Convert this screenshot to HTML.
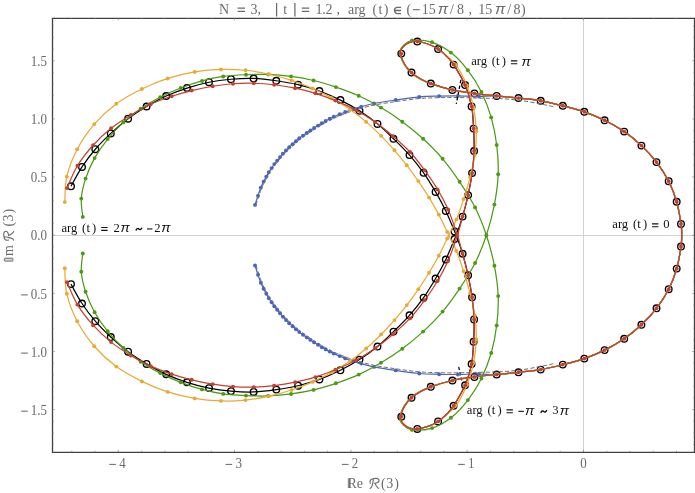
<!DOCTYPE html>
<html><head><meta charset="utf-8"><title>plot</title>
<style>html,body{margin:0;padding:0;background:#fff}body{width:695px;height:493px;overflow:hidden;position:relative;font-family:"Liberation Serif",serif}</style>
</head><body>
<svg width="695" height="493" viewBox="0 0 695 493" style="position:absolute;left:0;top:0">
<rect width="695" height="493" fill="#fff"/>
<g stroke="#d2d2d2" stroke-width="1" shape-rendering="crispEdges"><line x1="53" x2="694" y1="235.5" y2="235.5"/><line x1="583.5" x2="583.5" y1="18" y2="452"/></g>
<path d="M71.00 186.30C72.83 183.07 77.95 173.08 82.00 166.90C86.05 160.72 90.50 154.83 95.30 149.24C100.10 143.65 105.33 138.45 110.80 133.36C116.27 128.26 122.13 123.16 128.10 118.69C134.07 114.21 140.25 110.30 146.60 106.52C152.95 102.75 159.47 99.13 166.20 96.05C172.93 92.97 179.87 90.35 187.00 88.05C194.13 85.75 201.67 83.72 209.00 82.25C216.33 80.78 223.57 79.88 231.00 79.25C238.43 78.62 246.05 78.20 253.60 78.45C261.15 78.70 268.88 79.71 276.30 80.75C283.72 81.79 290.92 82.97 298.10 84.67C305.28 86.37 312.35 88.38 319.40 90.96C326.45 93.53 333.72 96.79 340.40 100.10C347.08 103.41 353.32 106.83 359.50 110.80C365.68 114.77 371.83 119.23 377.50 123.90C383.17 128.57 388.17 133.60 393.50 138.80C398.83 144.00 404.48 149.43 409.50 155.10C414.52 160.77 419.25 166.67 423.60 172.80C427.95 178.93 431.90 185.55 435.60 191.90C439.30 198.25 442.63 204.32 445.80 210.90C448.97 217.48 452.87 227.35 454.60 231.40C456.33 235.45 454.87 231.47 456.20 235.20C457.53 238.93 460.62 247.12 462.60 253.80C464.58 260.48 466.52 268.05 468.10 275.30C469.68 282.55 471.10 289.95 472.10 297.30C473.10 304.65 473.85 311.98 474.10 319.40C474.35 326.82 474.02 334.37 473.60 341.80C473.18 349.23 473.02 356.75 471.60 364.00C470.18 371.25 468.10 378.33 465.10 385.30C462.10 392.27 456.68 400.98 453.60 405.80C450.52 410.62 449.18 411.60 446.60 414.20C444.02 416.80 441.22 419.37 438.10 421.40C434.98 423.43 431.37 425.12 427.90 426.40C424.43 427.68 420.35 428.83 417.30 429.10C414.25 429.37 411.88 428.82 409.60 428.00C407.32 427.18 405.15 425.73 403.60 424.20C402.05 422.67 400.75 420.37 400.30 418.80C399.85 417.23 400.22 416.87 400.90 414.80C401.58 412.73 402.63 409.27 404.40 406.40C406.17 403.53 408.83 400.07 411.50 397.60C414.17 395.13 417.18 393.40 420.40 391.60C423.62 389.80 425.47 388.65 430.80 386.80C436.13 384.95 445.13 382.13 452.40 380.50C459.67 378.87 467.02 378.00 474.40 377.00C481.78 376.00 489.35 375.28 496.70 374.50C504.05 373.72 511.17 373.12 518.50 372.30C525.83 371.48 533.32 370.88 540.70 369.60C548.08 368.32 555.53 366.43 562.80 364.60C570.07 362.77 577.33 361.02 584.30 358.60C591.27 356.18 597.95 353.40 604.60 350.10C611.25 346.80 618.07 343.02 624.20 338.80C630.33 334.58 636.02 329.88 641.40 324.80C646.78 319.72 651.95 314.23 656.50 308.30C661.05 302.37 665.33 295.82 668.70 289.20C672.07 282.58 674.65 275.72 676.70 268.60C678.75 261.48 680.17 252.07 681.00 246.50C681.83 240.93 681.70 238.97 681.70 235.20C681.70 231.43 681.83 229.47 681.00 223.90C680.17 218.33 678.75 208.92 676.70 201.80C674.65 194.68 672.07 187.82 668.70 181.20C665.33 174.58 661.05 168.03 656.50 162.10C651.95 156.17 646.78 150.68 641.40 145.60C636.02 140.52 630.33 135.82 624.20 131.60C618.07 127.38 611.25 123.60 604.60 120.30C597.95 117.00 591.27 114.22 584.30 111.80C577.33 109.38 570.07 107.63 562.80 105.80C555.53 103.97 548.08 102.08 540.70 100.80C533.32 99.52 525.83 98.92 518.50 98.10C511.17 97.28 504.05 96.68 496.70 95.90C489.35 95.12 481.78 94.40 474.40 93.40C467.02 92.40 459.67 91.53 452.40 89.90C445.13 88.27 436.13 85.45 430.80 83.60C425.47 81.75 423.62 80.60 420.40 78.80C417.18 77.00 414.17 75.27 411.50 72.80C408.83 70.33 406.17 66.87 404.40 64.00C402.63 61.13 401.58 57.67 400.90 55.60C400.22 53.53 399.85 53.17 400.30 51.60C400.75 50.03 402.05 47.73 403.60 46.20C405.15 44.67 407.32 43.22 409.60 42.40C411.88 41.58 414.25 41.03 417.30 41.30C420.35 41.57 424.43 42.72 427.90 44.00C431.37 45.28 434.98 46.97 438.10 49.00C441.22 51.03 444.02 53.60 446.60 56.20C449.18 58.80 450.52 59.78 453.60 64.60C456.68 69.42 462.10 78.13 465.10 85.10C468.10 92.07 470.18 99.15 471.60 106.40C473.02 113.65 473.18 121.17 473.60 128.60C474.02 136.03 474.35 143.58 474.10 151.00C473.85 158.42 473.10 165.75 472.10 173.10C471.10 180.45 469.68 187.85 468.10 195.10C466.52 202.35 464.58 209.92 462.60 216.60C460.62 223.28 457.53 231.47 456.20 235.20C454.87 238.93 456.33 234.95 454.60 239.00C452.87 243.05 448.97 252.92 445.80 259.50C442.63 266.08 439.30 272.15 435.60 278.50C431.90 284.85 427.95 291.47 423.60 297.60C419.25 303.73 414.52 309.63 409.50 315.30C404.48 320.97 398.83 326.40 393.50 331.60C388.17 336.80 383.17 341.83 377.50 346.50C371.83 351.17 365.68 355.63 359.50 359.60C353.32 363.57 347.08 366.99 340.40 370.30C333.72 373.61 326.45 376.87 319.40 379.44C312.35 382.02 305.28 384.03 298.10 385.73C290.92 387.43 283.72 388.61 276.30 389.65C268.88 390.69 261.15 391.70 253.60 391.95C246.05 392.20 238.43 391.78 231.00 391.15C223.57 390.52 216.33 389.62 209.00 388.15C201.67 386.68 194.13 384.65 187.00 382.35C179.87 380.05 172.93 377.43 166.20 374.35C159.47 371.27 152.95 367.65 146.60 363.88C140.25 360.10 134.07 356.19 128.10 351.71C122.13 347.24 116.27 342.14 110.80 337.04C105.33 331.95 100.10 326.75 95.30 321.16C90.50 315.57 86.05 309.68 82.00 303.50C77.95 297.32 72.83 287.33 71.00 284.10" fill="none" stroke="#000" stroke-width="1.22"/>
<g fill="none" stroke="#000" stroke-width="1.35"><circle cx="71.0" cy="186.3" r="3.3"/><circle cx="82.0" cy="166.9" r="3.3"/><circle cx="95.3" cy="149.2" r="3.3"/><circle cx="110.8" cy="133.4" r="3.3"/><circle cx="128.1" cy="118.7" r="3.3"/><circle cx="146.6" cy="106.5" r="3.3"/><circle cx="166.2" cy="96.0" r="3.3"/><circle cx="187.0" cy="88.0" r="3.3"/><circle cx="209.0" cy="82.2" r="3.3"/><circle cx="231.0" cy="79.2" r="3.3"/><circle cx="253.6" cy="78.5" r="3.3"/><circle cx="276.3" cy="80.8" r="3.3"/><circle cx="298.1" cy="84.7" r="3.3"/><circle cx="319.4" cy="91.0" r="3.3"/><circle cx="340.4" cy="100.1" r="3.3"/><circle cx="359.5" cy="110.8" r="3.3"/><circle cx="377.5" cy="123.9" r="3.3"/><circle cx="393.5" cy="138.8" r="3.3"/><circle cx="409.5" cy="155.1" r="3.3"/><circle cx="423.6" cy="172.8" r="3.3"/><circle cx="435.6" cy="191.9" r="3.3"/><circle cx="445.8" cy="210.9" r="3.3"/><circle cx="454.6" cy="231.4" r="3.3"/><circle cx="462.6" cy="253.8" r="3.3"/><circle cx="468.1" cy="275.3" r="3.3"/><circle cx="472.1" cy="297.3" r="3.3"/><circle cx="474.1" cy="319.4" r="3.3"/><circle cx="473.6" cy="341.8" r="3.3"/><circle cx="471.6" cy="364.0" r="3.3"/><circle cx="465.1" cy="385.3" r="3.3"/><circle cx="453.6" cy="405.8" r="3.3"/><circle cx="438.1" cy="421.4" r="3.3"/><circle cx="417.3" cy="428.9" r="3.3"/><circle cx="401.3" cy="416.8" r="3.3"/><circle cx="411.5" cy="397.8" r="3.3"/><circle cx="430.8" cy="386.8" r="3.3"/><circle cx="452.4" cy="380.5" r="3.3"/><circle cx="474.4" cy="377.0" r="3.3"/><circle cx="496.7" cy="374.5" r="3.3"/><circle cx="518.5" cy="372.3" r="3.3"/><circle cx="540.7" cy="369.6" r="3.3"/><circle cx="562.8" cy="364.6" r="3.3"/><circle cx="584.3" cy="358.6" r="3.3"/><circle cx="604.6" cy="350.1" r="3.3"/><circle cx="624.2" cy="338.8" r="3.3"/><circle cx="641.4" cy="324.8" r="3.3"/><circle cx="656.5" cy="308.3" r="3.3"/><circle cx="668.7" cy="289.2" r="3.3"/><circle cx="676.7" cy="268.6" r="3.3"/><circle cx="681.0" cy="246.5" r="3.3"/><circle cx="681.0" cy="223.9" r="3.3"/><circle cx="676.7" cy="201.8" r="3.3"/><circle cx="668.7" cy="181.2" r="3.3"/><circle cx="656.5" cy="162.1" r="3.3"/><circle cx="641.4" cy="145.6" r="3.3"/><circle cx="624.2" cy="131.6" r="3.3"/><circle cx="604.6" cy="120.3" r="3.3"/><circle cx="584.3" cy="111.8" r="3.3"/><circle cx="562.8" cy="105.8" r="3.3"/><circle cx="540.7" cy="100.8" r="3.3"/><circle cx="518.5" cy="98.1" r="3.3"/><circle cx="496.7" cy="95.9" r="3.3"/><circle cx="474.4" cy="93.4" r="3.3"/><circle cx="452.4" cy="89.9" r="3.3"/><circle cx="430.8" cy="83.6" r="3.3"/><circle cx="411.5" cy="72.6" r="3.3"/><circle cx="401.3" cy="53.6" r="3.3"/><circle cx="417.3" cy="41.5" r="3.3"/><circle cx="438.1" cy="49.0" r="3.3"/><circle cx="453.6" cy="64.6" r="3.3"/><circle cx="465.1" cy="85.1" r="3.3"/><circle cx="471.6" cy="106.4" r="3.3"/><circle cx="473.6" cy="128.6" r="3.3"/><circle cx="474.1" cy="151.0" r="3.3"/><circle cx="472.1" cy="173.1" r="3.3"/><circle cx="468.1" cy="195.1" r="3.3"/><circle cx="462.6" cy="216.6" r="3.3"/><circle cx="454.6" cy="239.0" r="3.3"/><circle cx="445.8" cy="259.5" r="3.3"/><circle cx="435.6" cy="278.5" r="3.3"/><circle cx="423.6" cy="297.6" r="3.3"/><circle cx="409.5" cy="315.3" r="3.3"/><circle cx="393.5" cy="331.6" r="3.3"/><circle cx="377.5" cy="346.5" r="3.3"/><circle cx="359.5" cy="359.6" r="3.3"/><circle cx="340.4" cy="370.3" r="3.3"/><circle cx="319.4" cy="379.4" r="3.3"/><circle cx="298.1" cy="385.7" r="3.3"/><circle cx="276.3" cy="389.6" r="3.3"/><circle cx="253.6" cy="391.9" r="3.3"/><circle cx="231.0" cy="391.1" r="3.3"/><circle cx="209.0" cy="388.1" r="3.3"/><circle cx="187.0" cy="382.3" r="3.3"/><circle cx="166.2" cy="374.3" r="3.3"/><circle cx="146.6" cy="363.9" r="3.3"/><circle cx="128.1" cy="351.7" r="3.3"/><circle cx="110.8" cy="337.0" r="3.3"/><circle cx="95.3" cy="321.2" r="3.3"/><circle cx="82.0" cy="303.5" r="3.3"/><circle cx="71.0" cy="284.1" r="3.3"/></g>
<path d="M458.7 366.9L461.6 380.4" stroke="#000" stroke-width="1.2" stroke-dasharray="3.2 2.2" fill="none"/>
<path d="M255.86 205.18C255.95 204.90 256.18 204.18 256.41 203.50C256.63 202.82 256.92 201.93 257.19 201.09C257.47 200.24 257.79 199.27 258.07 198.42C258.35 197.58 258.62 196.76 258.88 195.99C259.14 195.23 259.36 194.55 259.60 193.84C259.84 193.13 260.07 192.43 260.31 191.75C260.54 191.07 260.77 190.40 261.00 189.77C261.23 189.14 261.46 188.53 261.69 187.95C261.92 187.38 262.15 186.84 262.38 186.32C262.62 185.80 262.85 185.31 263.08 184.83C263.31 184.34 263.55 183.88 263.78 183.42C264.01 182.95 264.25 182.49 264.48 182.04C264.71 181.59 264.94 181.16 265.16 180.73C265.39 180.31 265.62 179.90 265.84 179.49C266.07 179.08 266.30 178.68 266.52 178.28C266.74 177.88 266.97 177.48 267.19 177.09C267.41 176.69 267.62 176.29 267.83 175.91C268.04 175.52 268.24 175.15 268.45 174.78C268.65 174.41 268.85 174.04 269.06 173.69C269.26 173.34 269.47 172.99 269.68 172.65C269.90 172.31 270.12 171.99 270.34 171.66C270.57 171.33 270.81 171.01 271.04 170.69C271.28 170.36 271.52 170.04 271.76 169.71C272.00 169.38 272.25 169.04 272.48 168.71C272.71 168.37 272.94 168.02 273.17 167.69C273.39 167.35 273.61 167.02 273.82 166.69C274.04 166.36 274.26 166.04 274.48 165.72C274.71 165.39 274.93 165.08 275.18 164.76C275.42 164.44 275.68 164.12 275.94 163.80C276.21 163.47 276.49 163.15 276.77 162.82C277.05 162.49 277.34 162.16 277.62 161.82C277.91 161.49 278.20 161.15 278.47 160.81C278.75 160.47 279.02 160.14 279.28 159.81C279.55 159.48 279.80 159.15 280.06 158.82C280.33 158.49 280.58 158.17 280.85 157.84C281.12 157.51 281.39 157.18 281.68 156.84C281.97 156.50 282.27 156.15 282.58 155.80C282.88 155.45 283.20 155.09 283.51 154.73C283.83 154.38 284.15 154.02 284.48 153.66C284.80 153.31 285.13 152.96 285.46 152.61C285.79 152.26 286.12 151.92 286.46 151.58C286.79 151.24 287.13 150.90 287.47 150.56C287.81 150.22 288.16 149.88 288.52 149.53C288.88 149.18 289.25 148.83 289.63 148.48C290.01 148.12 290.41 147.76 290.81 147.39C291.21 147.03 291.64 146.65 292.06 146.28C292.48 145.91 292.91 145.53 293.34 145.15C293.77 144.78 294.20 144.40 294.62 144.02C295.05 143.65 295.47 143.27 295.88 142.89C296.30 142.52 296.70 142.15 297.11 141.78C297.53 141.41 297.94 141.04 298.37 140.68C298.80 140.31 299.23 139.95 299.69 139.59C300.15 139.22 300.64 138.86 301.14 138.48C301.64 138.11 302.17 137.73 302.70 137.36C303.22 136.99 303.77 136.61 304.29 136.24C304.82 135.87 305.34 135.51 305.85 135.16C306.35 134.80 306.83 134.47 307.30 134.14C307.78 133.80 308.24 133.49 308.71 133.16C309.18 132.84 309.65 132.52 310.13 132.20C310.62 131.87 311.12 131.54 311.63 131.20C312.15 130.86 312.68 130.51 313.22 130.16C313.76 129.81 314.31 129.46 314.87 129.10C315.42 128.75 315.99 128.39 316.56 128.03C317.14 127.67 317.72 127.31 318.31 126.95C318.90 126.58 319.50 126.21 320.11 125.84C320.71 125.47 321.32 125.10 321.94 124.73C322.56 124.36 323.18 123.98 323.82 123.61C324.46 123.24 325.09 122.88 325.77 122.50C326.45 122.12 327.16 121.74 327.89 121.35C328.62 120.96 329.40 120.54 330.14 120.16C330.88 119.77 331.64 119.38 332.34 119.03C333.03 118.68 333.70 118.35 334.31 118.07C334.91 117.78 335.43 117.55 335.95 117.33C336.47 117.10 336.94 116.92 337.42 116.73C337.89 116.54 338.34 116.38 338.82 116.19C339.29 116.01 339.78 115.81 340.25 115.62C340.72 115.43 341.19 115.23 341.63 115.04C342.08 114.85 342.49 114.68 342.93 114.49C343.36 114.31 343.78 114.13 344.25 113.94C344.72 113.76 345.20 113.57 345.73 113.36C346.26 113.16 346.84 112.94 347.43 112.72C348.02 112.50 348.64 112.27 349.27 112.05C349.89 111.82 350.54 111.59 351.19 111.37C351.84 111.15 352.51 110.93 353.16 110.72C353.81 110.51 354.45 110.31 355.10 110.11C355.74 109.91 356.37 109.73 357.04 109.53C357.72 109.33 358.40 109.14 359.16 108.93C359.92 108.72 360.74 108.50 361.60 108.26C362.46 108.02 363.38 107.76 364.31 107.50C365.24 107.24 366.16 106.96 367.18 106.69C368.20 106.41 369.25 106.13 370.43 105.85C371.62 105.57 372.87 105.30 374.30 105.02C375.73 104.73 377.33 104.45 379.02 104.16C380.70 103.87 382.56 103.57 384.42 103.28C386.28 102.98 388.25 102.69 390.17 102.40C392.08 102.11 393.99 101.84 395.93 101.56C397.86 101.27 399.80 100.99 401.78 100.71C403.77 100.42 405.83 100.12 407.83 99.85C409.84 99.58 411.88 99.31 413.81 99.09C415.75 98.86 417.64 98.65 419.44 98.50C421.25 98.34 422.94 98.22 424.63 98.13C426.31 98.04 427.93 97.98 429.55 97.93C431.17 97.88 432.74 97.86 434.34 97.83C435.94 97.79 437.56 97.76 439.14 97.73C440.73 97.70 442.30 97.66 443.85 97.63C445.40 97.60 446.91 97.58 448.44 97.56C449.98 97.55 451.50 97.54 453.07 97.54C454.65 97.54 456.24 97.54 457.89 97.56C459.53 97.57 461.24 97.60 462.96 97.64C464.68 97.68 466.45 97.73 468.21 97.78C469.97 97.83 471.77 97.89 473.54 97.94C475.32 97.99 477.09 98.04 478.86 98.09C480.63 98.13 482.40 98.16 484.17 98.19C485.94 98.22 487.72 98.24 489.48 98.27C491.25 98.31 493.01 98.34 494.75 98.40C496.49 98.45 498.21 98.53 499.91 98.61C501.61 98.70 503.29 98.80 504.95 98.91C506.61 99.02 508.24 99.14 509.88 99.28C511.53 99.42 513.15 99.56 514.80 99.74C516.45 99.91 518.08 100.10 519.77 100.33C521.47 100.55 523.21 100.82 524.97 101.10C526.73 101.39 528.57 101.72 530.33 102.03C532.10 102.35 533.89 102.70 535.56 103.02C537.23 103.33 538.81 103.63 540.37 103.94C541.93 104.24 543.42 104.54 544.91 104.84C546.39 105.15 547.92 105.48 549.27 105.77C550.62 106.06 551.94 106.35 553.00 106.58C554.06 106.82 555.19 107.06 555.63 107.16" fill="none" stroke="#6e6e6e" stroke-width="1" stroke-dasharray="4.2 2.2"/>
<path d="M255.86 265.22C255.95 265.50 256.18 266.22 256.41 266.90C256.63 267.58 256.92 268.47 257.19 269.31C257.47 270.16 257.79 271.13 258.07 271.98C258.35 272.82 258.62 273.64 258.88 274.41C259.14 275.17 259.36 275.85 259.60 276.56C259.84 277.27 260.07 277.97 260.31 278.65C260.54 279.33 260.77 280.00 261.00 280.63C261.23 281.26 261.46 281.87 261.69 282.45C261.92 283.02 262.15 283.56 262.38 284.08C262.62 284.60 262.85 285.09 263.08 285.57C263.31 286.06 263.55 286.52 263.78 286.98C264.01 287.45 264.25 287.91 264.48 288.36C264.71 288.81 264.94 289.24 265.16 289.67C265.39 290.09 265.62 290.50 265.84 290.91C266.07 291.32 266.30 291.72 266.52 292.12C266.74 292.52 266.97 292.92 267.19 293.31C267.41 293.71 267.62 294.11 267.83 294.49C268.04 294.88 268.24 295.25 268.45 295.62C268.65 295.99 268.85 296.36 269.06 296.71C269.26 297.06 269.47 297.41 269.68 297.75C269.90 298.09 270.12 298.41 270.34 298.74C270.57 299.07 270.81 299.39 271.04 299.71C271.28 300.04 271.52 300.36 271.76 300.69C272.00 301.02 272.25 301.36 272.48 301.69C272.71 302.03 272.94 302.38 273.17 302.71C273.39 303.05 273.61 303.38 273.82 303.71C274.04 304.04 274.26 304.36 274.48 304.68C274.71 305.01 274.93 305.32 275.18 305.64C275.42 305.96 275.68 306.28 275.94 306.60C276.21 306.93 276.49 307.25 276.77 307.58C277.05 307.91 277.34 308.24 277.62 308.58C277.91 308.91 278.20 309.25 278.47 309.59C278.75 309.93 279.02 310.26 279.28 310.59C279.55 310.92 279.80 311.25 280.06 311.58C280.33 311.91 280.58 312.23 280.85 312.56C281.12 312.89 281.39 313.22 281.68 313.56C281.97 313.90 282.27 314.25 282.58 314.60C282.88 314.95 283.20 315.31 283.51 315.67C283.83 316.02 284.15 316.38 284.48 316.74C284.80 317.09 285.13 317.44 285.46 317.79C285.79 318.14 286.12 318.48 286.46 318.82C286.79 319.16 287.13 319.50 287.47 319.84C287.81 320.18 288.16 320.52 288.52 320.87C288.88 321.22 289.25 321.57 289.63 321.92C290.01 322.28 290.41 322.64 290.81 323.01C291.21 323.37 291.64 323.75 292.06 324.12C292.48 324.49 292.91 324.87 293.34 325.25C293.77 325.62 294.20 326.00 294.62 326.38C295.05 326.75 295.47 327.13 295.88 327.51C296.30 327.88 296.70 328.25 297.11 328.62C297.53 328.99 297.94 329.36 298.37 329.72C298.80 330.09 299.23 330.45 299.69 330.81C300.15 331.18 300.64 331.54 301.14 331.92C301.64 332.29 302.17 332.67 302.70 333.04C303.22 333.41 303.77 333.79 304.29 334.16C304.82 334.53 305.34 334.89 305.85 335.24C306.35 335.60 306.83 335.93 307.30 336.26C307.78 336.60 308.24 336.91 308.71 337.24C309.18 337.56 309.65 337.88 310.13 338.20C310.62 338.53 311.12 338.86 311.63 339.20C312.15 339.54 312.68 339.89 313.22 340.24C313.76 340.59 314.31 340.94 314.87 341.30C315.42 341.65 315.99 342.01 316.56 342.37C317.14 342.73 317.72 343.09 318.31 343.45C318.90 343.82 319.50 344.19 320.11 344.56C320.71 344.93 321.32 345.30 321.94 345.67C322.56 346.04 323.18 346.42 323.82 346.79C324.46 347.16 325.09 347.52 325.77 347.90C326.45 348.28 327.16 348.66 327.89 349.05C328.62 349.44 329.40 349.86 330.14 350.24C330.88 350.63 331.64 351.02 332.34 351.37C333.03 351.72 333.70 352.05 334.31 352.33C334.91 352.62 335.43 352.85 335.95 353.07C336.47 353.30 336.94 353.48 337.42 353.67C337.89 353.86 338.34 354.02 338.82 354.21C339.29 354.39 339.78 354.59 340.25 354.78C340.72 354.97 341.19 355.17 341.63 355.36C342.08 355.55 342.49 355.72 342.93 355.91C343.36 356.09 343.78 356.27 344.25 356.46C344.72 356.64 345.20 356.83 345.73 357.04C346.26 357.24 346.84 357.46 347.43 357.68C348.02 357.90 348.64 358.13 349.27 358.35C349.89 358.58 350.54 358.81 351.19 359.03C351.84 359.25 352.51 359.47 353.16 359.68C353.81 359.89 354.45 360.09 355.10 360.29C355.74 360.49 356.37 360.67 357.04 360.87C357.72 361.07 358.40 361.26 359.16 361.47C359.92 361.68 360.74 361.90 361.60 362.14C362.46 362.38 363.38 362.64 364.31 362.90C365.24 363.16 366.16 363.44 367.18 363.71C368.20 363.99 369.25 364.27 370.43 364.55C371.62 364.83 372.87 365.10 374.30 365.38C375.73 365.67 377.33 365.95 379.02 366.24C380.70 366.53 382.56 366.83 384.42 367.12C386.28 367.42 388.25 367.71 390.17 368.00C392.08 368.29 393.99 368.56 395.93 368.84C397.86 369.13 399.80 369.41 401.78 369.69C403.77 369.98 405.83 370.28 407.83 370.55C409.84 370.82 411.88 371.09 413.81 371.31C415.75 371.54 417.64 371.75 419.44 371.90C421.25 372.06 422.94 372.18 424.63 372.27C426.31 372.36 427.93 372.42 429.55 372.47C431.17 372.52 432.74 372.54 434.34 372.57C435.94 372.61 437.56 372.64 439.14 372.67C440.73 372.70 442.30 372.74 443.85 372.77C445.40 372.80 446.91 372.82 448.44 372.84C449.98 372.85 451.50 372.86 453.07 372.86C454.65 372.86 456.24 372.86 457.89 372.84C459.53 372.83 461.24 372.80 462.96 372.76C464.68 372.72 466.45 372.67 468.21 372.62C469.97 372.57 471.77 372.51 473.54 372.46C475.32 372.41 477.09 372.36 478.86 372.31C480.63 372.27 482.40 372.24 484.17 372.21C485.94 372.18 487.72 372.16 489.48 372.13C491.25 372.09 493.01 372.06 494.75 372.00C496.49 371.95 498.21 371.87 499.91 371.79C501.61 371.70 503.29 371.60 504.95 371.49C506.61 371.38 508.24 371.26 509.88 371.12C511.53 370.98 513.15 370.84 514.80 370.66C516.45 370.49 518.08 370.30 519.77 370.07C521.47 369.85 523.21 369.58 524.97 369.30C526.73 369.01 528.57 368.68 530.33 368.37C532.10 368.05 533.89 367.70 535.56 367.38C537.23 367.07 538.81 366.77 540.37 366.46C541.93 366.16 543.42 365.86 544.91 365.56C546.39 365.25 547.92 364.92 549.27 364.63C550.62 364.34 551.94 364.05 553.00 363.82C554.06 363.58 555.19 363.34 555.63 363.24" fill="none" stroke="#6e6e6e" stroke-width="1" stroke-dasharray="4.2 2.2"/>
<path d="M255.00 204.90C255.50 203.37 257.03 198.58 258.00 195.70C258.97 192.82 259.87 189.95 260.80 187.60C261.73 185.25 262.68 183.43 263.60 181.60C264.52 179.77 265.43 178.18 266.30 176.60C267.17 175.02 267.92 173.52 268.80 172.10C269.68 170.68 270.68 169.43 271.60 168.10C272.52 166.77 273.30 165.43 274.30 164.10C275.30 162.77 276.52 161.43 277.60 160.10C278.68 158.77 279.63 157.48 280.80 156.10C281.97 154.72 283.27 153.22 284.60 151.80C285.93 150.38 287.27 149.05 288.80 147.60C290.33 146.15 292.12 144.60 293.80 143.10C295.48 141.60 297.02 140.10 298.90 138.60C300.78 137.10 303.10 135.52 305.10 134.10C307.10 132.68 308.82 131.48 310.90 130.10C312.98 128.72 315.23 127.27 317.60 125.80C319.97 124.33 322.42 122.80 325.10 121.30C327.78 119.80 331.27 117.97 333.70 116.80C336.13 115.63 337.78 115.10 339.70 114.30C341.62 113.50 343.03 112.83 345.20 112.00C347.37 111.17 350.03 110.17 352.70 109.30C355.37 108.43 357.65 107.77 361.20 106.80C364.75 105.83 368.25 104.63 374.00 103.50C379.75 102.37 388.15 101.10 395.70 100.00C403.25 98.90 412.07 97.55 419.30 96.90C426.53 96.25 432.67 96.27 439.10 96.10C445.53 95.93 451.27 95.85 457.90 95.90C464.53 95.95 472.43 96.40 478.90 96.40C485.37 96.40 490.10 95.62 496.70 95.90C503.30 96.18 511.17 97.28 518.50 98.10C525.83 98.92 533.32 99.52 540.70 100.80C548.08 102.08 555.53 103.97 562.80 105.80C570.07 107.63 577.33 109.38 584.30 111.80C591.27 114.22 597.95 117.00 604.60 120.30C611.25 123.60 618.07 127.38 624.20 131.60C630.33 135.82 636.02 140.52 641.40 145.60C646.78 150.68 651.95 156.17 656.50 162.10C661.05 168.03 665.33 174.58 668.70 181.20C672.07 187.82 674.65 194.68 676.70 201.80C678.75 208.92 680.17 218.33 681.00 223.90C681.83 229.47 681.70 231.43 681.70 235.20C681.70 238.97 681.83 240.93 681.00 246.50C680.17 252.07 678.75 261.48 676.70 268.60C674.65 275.72 672.07 282.58 668.70 289.20C665.33 295.82 661.05 302.37 656.50 308.30C651.95 314.23 646.78 319.72 641.40 324.80C636.02 329.88 630.33 334.58 624.20 338.80C618.07 343.02 611.25 346.80 604.60 350.10C597.95 353.40 591.27 356.18 584.30 358.60C577.33 361.02 570.07 362.77 562.80 364.60C555.53 366.43 548.08 368.32 540.70 369.60C533.32 370.88 525.83 371.48 518.50 372.30C511.17 373.12 503.30 374.22 496.70 374.50C490.10 374.78 485.37 374.00 478.90 374.00C472.43 374.00 464.53 374.45 457.90 374.50C451.27 374.55 445.53 374.47 439.10 374.30C432.67 374.13 426.53 374.15 419.30 373.50C412.07 372.85 403.25 371.50 395.70 370.40C388.15 369.30 379.75 368.03 374.00 366.90C368.25 365.77 364.75 364.57 361.20 363.60C357.65 362.63 355.37 361.97 352.70 361.10C350.03 360.23 347.37 359.23 345.20 358.40C343.03 357.57 341.62 356.90 339.70 356.10C337.78 355.30 336.13 354.77 333.70 353.60C331.27 352.43 327.78 350.60 325.10 349.10C322.42 347.60 319.97 346.07 317.60 344.60C315.23 343.13 312.98 341.68 310.90 340.30C308.82 338.92 307.10 337.72 305.10 336.30C303.10 334.88 300.78 333.30 298.90 331.80C297.02 330.30 295.48 328.80 293.80 327.30C292.12 325.80 290.33 324.25 288.80 322.80C287.27 321.35 285.93 320.02 284.60 318.60C283.27 317.18 281.97 315.68 280.80 314.30C279.63 312.92 278.68 311.63 277.60 310.30C276.52 308.97 275.30 307.63 274.30 306.30C273.30 304.97 272.52 303.63 271.60 302.30C270.68 300.97 269.68 299.72 268.80 298.30C267.92 296.88 267.17 295.38 266.30 293.80C265.43 292.22 264.52 290.63 263.60 288.80C262.68 286.97 261.73 285.15 260.80 282.80C259.87 280.45 258.97 277.58 258.00 274.70C257.03 271.82 255.50 267.03 255.00 265.50" fill="none" stroke="#4d65b8" stroke-width="1.22"/>
<g fill="#4d65b8"><circle cx="255.0" cy="204.9" r="1.95"/><circle cx="258.0" cy="195.7" r="1.95"/><circle cx="260.8" cy="187.6" r="1.95"/><circle cx="263.6" cy="181.6" r="1.95"/><circle cx="266.3" cy="176.6" r="1.95"/><circle cx="268.8" cy="172.1" r="1.95"/><circle cx="271.6" cy="168.1" r="1.95"/><circle cx="274.3" cy="164.1" r="1.95"/><circle cx="277.2" cy="160.6" r="1.95"/><circle cx="280.0" cy="157.1" r="1.95"/><circle cx="282.9" cy="153.7" r="1.95"/><circle cx="286.0" cy="150.4" r="1.95"/><circle cx="289.2" cy="147.2" r="1.95"/><circle cx="292.6" cy="144.2" r="1.95"/><circle cx="295.9" cy="141.2" r="1.95"/><circle cx="299.3" cy="138.3" r="1.95"/><circle cx="303.0" cy="135.6" r="1.95"/><circle cx="306.7" cy="133.0" r="1.95"/><circle cx="310.4" cy="130.5" r="1.95"/><circle cx="314.1" cy="128.0" r="1.95"/><circle cx="318.0" cy="125.6" r="1.95"/><circle cx="321.8" cy="123.2" r="1.95"/><circle cx="325.7" cy="121.0" r="1.95"/><circle cx="329.7" cy="118.8" r="1.95"/><circle cx="333.7" cy="116.8" r="1.95"/><circle cx="339.7" cy="114.3" r="1.95"/><circle cx="345.2" cy="112.0" r="1.95"/><circle cx="352.7" cy="109.3" r="1.95"/><circle cx="361.2" cy="106.8" r="1.95"/><circle cx="374.0" cy="103.5" r="1.95"/><circle cx="395.7" cy="100.0" r="1.95"/><circle cx="419.3" cy="96.9" r="1.95"/><circle cx="439.1" cy="96.1" r="1.95"/><circle cx="457.9" cy="95.9" r="1.95"/><circle cx="478.9" cy="96.4" r="1.95"/><circle cx="255.0" cy="265.5" r="1.95"/><circle cx="258.0" cy="274.7" r="1.95"/><circle cx="260.8" cy="282.8" r="1.95"/><circle cx="263.6" cy="288.8" r="1.95"/><circle cx="266.3" cy="293.8" r="1.95"/><circle cx="268.8" cy="298.3" r="1.95"/><circle cx="271.6" cy="302.3" r="1.95"/><circle cx="274.3" cy="306.3" r="1.95"/><circle cx="277.2" cy="309.8" r="1.95"/><circle cx="280.0" cy="313.3" r="1.95"/><circle cx="282.9" cy="316.7" r="1.95"/><circle cx="286.0" cy="320.0" r="1.95"/><circle cx="289.2" cy="323.2" r="1.95"/><circle cx="292.6" cy="326.2" r="1.95"/><circle cx="295.9" cy="329.2" r="1.95"/><circle cx="299.3" cy="332.1" r="1.95"/><circle cx="303.0" cy="334.8" r="1.95"/><circle cx="306.7" cy="337.4" r="1.95"/><circle cx="310.4" cy="339.9" r="1.95"/><circle cx="314.1" cy="342.4" r="1.95"/><circle cx="318.0" cy="344.8" r="1.95"/><circle cx="321.8" cy="347.2" r="1.95"/><circle cx="325.7" cy="349.4" r="1.95"/><circle cx="329.7" cy="351.6" r="1.95"/><circle cx="333.7" cy="353.6" r="1.95"/><circle cx="339.7" cy="356.1" r="1.95"/><circle cx="345.2" cy="358.4" r="1.95"/><circle cx="352.7" cy="361.1" r="1.95"/><circle cx="361.2" cy="363.6" r="1.95"/><circle cx="374.0" cy="366.9" r="1.95"/><circle cx="395.7" cy="370.4" r="1.95"/><circle cx="419.3" cy="373.5" r="1.95"/><circle cx="439.1" cy="374.3" r="1.95"/><circle cx="457.9" cy="374.5" r="1.95"/><circle cx="478.9" cy="374.0" r="1.95"/></g>
<path d="M460.9 79.9L456.3 103.8" stroke="#000" stroke-width="1.3" stroke-dasharray="3.4 2.4" fill="none"/>
<path d="M82.80 216.90C82.55 213.85 80.83 204.98 81.30 198.60C81.77 192.22 83.38 185.34 85.60 178.60C87.82 171.86 90.92 164.71 94.60 158.13C98.28 151.56 102.90 145.10 107.70 139.13C112.50 133.17 117.92 127.43 123.40 122.35C128.88 117.27 134.47 112.86 140.60 108.68C146.73 104.50 153.52 100.69 160.20 97.25C166.88 93.81 173.73 90.77 180.70 88.05C187.67 85.33 194.92 82.88 202.00 80.95C209.08 79.02 215.87 77.48 223.20 76.45C230.53 75.42 238.48 75.08 246.00 74.75C253.52 74.42 260.78 74.17 268.30 74.45C275.82 74.73 283.55 75.43 291.10 76.44C298.65 77.45 306.13 78.74 313.60 80.51C321.07 82.29 328.38 84.55 335.90 87.10C343.42 89.65 351.18 92.38 358.70 95.80C366.22 99.22 373.73 103.28 381.00 107.60C388.27 111.92 395.28 116.50 402.30 121.70C409.32 126.90 416.38 132.62 423.10 138.80C429.82 144.98 436.52 151.63 442.60 158.80C448.68 165.97 454.18 173.70 459.60 181.80C465.02 189.90 470.63 198.50 475.10 207.40C479.57 216.30 483.18 225.47 486.40 235.20C489.62 244.93 492.43 255.65 494.40 265.80C496.37 275.95 497.82 286.17 498.20 296.10C498.58 306.03 497.87 315.92 496.70 325.40C495.53 334.88 493.75 344.15 491.20 353.00C488.65 361.85 485.28 370.65 481.40 378.50C477.52 386.35 472.98 393.55 467.90 400.10C462.82 406.65 456.87 413.13 450.90 417.80C444.93 422.47 438.58 426.08 432.10 428.10C425.62 430.12 416.82 430.45 412.00 429.90C407.18 429.35 405.27 426.65 403.20 424.80C401.13 422.95 400.08 420.53 399.60 418.80C399.12 417.07 399.57 416.50 400.30 414.40C401.03 412.30 402.18 409.05 404.00 406.20C405.82 403.35 408.50 399.78 411.20 397.30C413.90 394.82 416.93 393.05 420.20 391.30C423.47 389.55 425.43 388.60 430.80 386.80C436.17 385.00 445.13 382.13 452.40 380.50C459.67 378.87 467.02 378.00 474.40 377.00C481.78 376.00 489.35 375.28 496.70 374.50C504.05 373.72 511.17 373.12 518.50 372.30C525.83 371.48 533.32 370.88 540.70 369.60C548.08 368.32 555.53 366.43 562.80 364.60C570.07 362.77 577.33 361.02 584.30 358.60C591.27 356.18 597.95 353.40 604.60 350.10C611.25 346.80 618.07 343.02 624.20 338.80C630.33 334.58 636.02 329.88 641.40 324.80C646.78 319.72 651.95 314.23 656.50 308.30C661.05 302.37 665.33 295.82 668.70 289.20C672.07 282.58 674.65 275.72 676.70 268.60C678.75 261.48 680.17 252.07 681.00 246.50C681.83 240.93 681.70 238.97 681.70 235.20C681.70 231.43 681.83 229.47 681.00 223.90C680.17 218.33 678.75 208.92 676.70 201.80C674.65 194.68 672.07 187.82 668.70 181.20C665.33 174.58 661.05 168.03 656.50 162.10C651.95 156.17 646.78 150.68 641.40 145.60C636.02 140.52 630.33 135.82 624.20 131.60C618.07 127.38 611.25 123.60 604.60 120.30C597.95 117.00 591.27 114.22 584.30 111.80C577.33 109.38 570.07 107.63 562.80 105.80C555.53 103.97 548.08 102.08 540.70 100.80C533.32 99.52 525.83 98.92 518.50 98.10C511.17 97.28 504.05 96.68 496.70 95.90C489.35 95.12 481.78 94.40 474.40 93.40C467.02 92.40 459.67 91.53 452.40 89.90C445.13 88.27 436.17 85.40 430.80 83.60C425.43 81.80 423.47 80.85 420.20 79.10C416.93 77.35 413.90 75.58 411.20 73.10C408.50 70.62 405.82 67.05 404.00 64.20C402.18 61.35 401.03 58.10 400.30 56.00C399.57 53.90 399.12 53.33 399.60 51.60C400.08 49.87 401.13 47.45 403.20 45.60C405.27 43.75 407.18 41.05 412.00 40.50C416.82 39.95 425.62 40.28 432.10 42.30C438.58 44.32 444.93 47.93 450.90 52.60C456.87 57.27 462.82 63.75 467.90 70.30C472.98 76.85 477.52 84.05 481.40 91.90C485.28 99.75 488.65 108.55 491.20 117.40C493.75 126.25 495.53 135.52 496.70 145.00C497.87 154.48 498.58 164.37 498.20 174.30C497.82 184.23 496.37 194.45 494.40 204.60C492.43 214.75 489.62 225.47 486.40 235.20C483.18 244.93 479.57 254.10 475.10 263.00C470.63 271.90 465.02 280.50 459.60 288.60C454.18 296.70 448.68 304.43 442.60 311.60C436.52 318.77 429.82 325.42 423.10 331.60C416.38 337.78 409.32 343.50 402.30 348.70C395.28 353.90 388.27 358.48 381.00 362.80C373.73 367.12 366.22 371.18 358.70 374.60C351.18 378.02 343.42 380.75 335.90 383.30C328.38 385.85 321.07 388.11 313.60 389.89C306.13 391.66 298.65 392.95 291.10 393.96C283.55 394.97 275.82 395.67 268.30 395.95C260.78 396.23 253.52 395.98 246.00 395.65C238.48 395.32 230.53 394.98 223.20 393.95C215.87 392.92 209.08 391.38 202.00 389.45C194.92 387.52 187.67 385.07 180.70 382.35C173.73 379.63 166.88 376.59 160.20 373.15C153.52 369.71 146.73 365.90 140.60 361.72C134.47 357.54 128.88 353.13 123.40 348.05C117.92 342.97 112.50 337.23 107.70 331.27C102.90 325.30 98.28 318.84 94.60 312.27C90.92 305.69 87.82 298.54 85.60 291.80C83.38 285.06 81.77 278.18 81.30 271.80C80.83 265.42 82.55 256.55 82.80 253.50" fill="none" stroke="#4a9a12" stroke-width="1.22"/>
<g fill="#4a9a12"><circle cx="82.8" cy="216.9" r="1.95"/><circle cx="81.3" cy="198.6" r="1.95"/><circle cx="85.6" cy="178.6" r="1.95"/><circle cx="94.6" cy="158.1" r="1.95"/><circle cx="107.7" cy="139.1" r="1.95"/><circle cx="123.4" cy="122.4" r="1.95"/><circle cx="140.6" cy="108.7" r="1.95"/><circle cx="160.2" cy="97.2" r="1.95"/><circle cx="180.7" cy="88.0" r="1.95"/><circle cx="202.0" cy="81.0" r="1.95"/><circle cx="223.2" cy="76.5" r="1.95"/><circle cx="246.0" cy="74.8" r="1.95"/><circle cx="268.3" cy="74.5" r="1.95"/><circle cx="291.1" cy="76.4" r="1.95"/><circle cx="313.6" cy="80.5" r="1.95"/><circle cx="335.9" cy="87.1" r="1.95"/><circle cx="358.7" cy="95.8" r="1.95"/><circle cx="381.0" cy="107.6" r="1.95"/><circle cx="402.3" cy="121.7" r="1.95"/><circle cx="423.1" cy="138.8" r="1.95"/><circle cx="442.6" cy="158.8" r="1.95"/><circle cx="459.6" cy="181.8" r="1.95"/><circle cx="475.1" cy="207.4" r="1.95"/><circle cx="486.4" cy="235.2" r="1.95"/><circle cx="494.4" cy="265.8" r="1.95"/><circle cx="498.2" cy="296.1" r="1.95"/><circle cx="496.7" cy="325.4" r="1.95"/><circle cx="491.2" cy="353.0" r="1.95"/><circle cx="481.4" cy="378.5" r="1.95"/><circle cx="467.9" cy="400.1" r="1.95"/><circle cx="450.9" cy="417.8" r="1.95"/><circle cx="432.1" cy="428.1" r="1.95"/><circle cx="412.0" cy="429.9" r="1.95"/><circle cx="412.0" cy="40.5" r="1.95"/><circle cx="432.1" cy="42.3" r="1.95"/><circle cx="450.9" cy="52.6" r="1.95"/><circle cx="467.9" cy="70.3" r="1.95"/><circle cx="481.4" cy="91.9" r="1.95"/><circle cx="491.2" cy="117.4" r="1.95"/><circle cx="496.7" cy="145.0" r="1.95"/><circle cx="498.2" cy="174.3" r="1.95"/><circle cx="494.4" cy="204.6" r="1.95"/><circle cx="475.1" cy="263.0" r="1.95"/><circle cx="459.6" cy="288.6" r="1.95"/><circle cx="442.6" cy="311.6" r="1.95"/><circle cx="423.1" cy="331.6" r="1.95"/><circle cx="402.3" cy="348.7" r="1.95"/><circle cx="381.0" cy="362.8" r="1.95"/><circle cx="358.7" cy="374.6" r="1.95"/><circle cx="335.9" cy="383.3" r="1.95"/><circle cx="313.6" cy="389.9" r="1.95"/><circle cx="291.1" cy="394.0" r="1.95"/><circle cx="268.3" cy="395.9" r="1.95"/><circle cx="246.0" cy="395.6" r="1.95"/><circle cx="223.2" cy="393.9" r="1.95"/><circle cx="202.0" cy="389.4" r="1.95"/><circle cx="180.7" cy="382.3" r="1.95"/><circle cx="160.2" cy="373.1" r="1.95"/><circle cx="140.6" cy="361.7" r="1.95"/><circle cx="123.4" cy="348.0" r="1.95"/><circle cx="107.7" cy="331.3" r="1.95"/><circle cx="94.6" cy="312.3" r="1.95"/><circle cx="85.6" cy="291.8" r="1.95"/><circle cx="81.3" cy="271.8" r="1.95"/><circle cx="82.8" cy="253.5" r="1.95"/></g>
<path d="M64.80 202.10C65.13 197.85 64.73 185.42 66.80 176.60C68.87 167.78 72.62 157.94 77.20 149.20C81.78 140.46 87.78 131.70 94.30 124.13C100.82 116.57 108.37 109.65 116.30 103.80C124.23 97.94 133.33 93.21 141.90 88.99C150.47 84.76 158.90 81.29 167.70 78.45C176.50 75.61 185.82 73.45 194.70 71.95C203.58 70.45 212.53 69.73 221.00 69.45C229.47 69.17 237.48 69.45 245.50 70.25C253.52 71.05 261.42 72.55 269.10 74.25C276.78 75.95 284.35 78.05 291.60 80.43C298.85 82.81 305.88 85.57 312.60 88.52C319.32 91.47 325.68 94.67 331.90 98.13C338.12 101.59 344.18 105.34 349.90 109.30C355.62 113.26 361.00 117.47 366.20 121.90C371.40 126.33 376.38 131.17 381.10 135.90C385.82 140.63 390.22 145.40 394.50 150.30C398.78 155.20 402.83 160.17 406.80 165.30C410.77 170.43 414.58 175.72 418.30 181.10C422.02 186.48 425.68 192.02 429.10 197.60C432.52 203.18 435.78 208.88 438.80 214.60C441.82 220.32 445.53 228.47 447.20 231.90C448.87 235.33 447.27 232.02 448.80 235.20C450.33 238.38 453.93 244.98 456.40 251.00C458.87 257.02 461.32 264.25 463.60 271.30C465.88 278.35 468.23 285.97 470.10 293.30C471.97 300.63 473.77 307.67 474.80 315.30C475.83 322.93 476.50 331.17 476.30 339.10C476.10 347.03 475.15 355.27 473.60 362.90C472.05 370.53 470.00 377.75 467.00 384.90C464.00 392.05 460.42 399.72 455.60 405.80C450.78 411.88 442.72 417.97 438.10 421.40C433.48 424.83 431.37 425.12 427.90 426.40C424.43 427.68 420.35 428.83 417.30 429.10C414.25 429.37 411.88 428.82 409.60 428.00C407.32 427.18 405.15 425.73 403.60 424.20C402.05 422.67 400.75 420.37 400.30 418.80C399.85 417.23 400.22 416.87 400.90 414.80C401.58 412.73 402.63 409.27 404.40 406.40C406.17 403.53 408.83 400.07 411.50 397.60C414.17 395.13 417.18 393.40 420.40 391.60C423.62 389.80 425.47 388.65 430.80 386.80C436.13 384.95 445.13 382.13 452.40 380.50C459.67 378.87 467.02 378.00 474.40 377.00C481.78 376.00 489.35 375.28 496.70 374.50C504.05 373.72 511.17 373.12 518.50 372.30C525.83 371.48 533.32 370.88 540.70 369.60C548.08 368.32 555.53 366.43 562.80 364.60C570.07 362.77 577.33 361.02 584.30 358.60C591.27 356.18 597.95 353.40 604.60 350.10C611.25 346.80 618.07 343.02 624.20 338.80C630.33 334.58 636.02 329.88 641.40 324.80C646.78 319.72 651.95 314.23 656.50 308.30C661.05 302.37 665.33 295.82 668.70 289.20C672.07 282.58 674.65 275.72 676.70 268.60C678.75 261.48 680.17 252.07 681.00 246.50C681.83 240.93 681.70 238.97 681.70 235.20C681.70 231.43 681.83 229.47 681.00 223.90C680.17 218.33 678.75 208.92 676.70 201.80C674.65 194.68 672.07 187.82 668.70 181.20C665.33 174.58 661.05 168.03 656.50 162.10C651.95 156.17 646.78 150.68 641.40 145.60C636.02 140.52 630.33 135.82 624.20 131.60C618.07 127.38 611.25 123.60 604.60 120.30C597.95 117.00 591.27 114.22 584.30 111.80C577.33 109.38 570.07 107.63 562.80 105.80C555.53 103.97 548.08 102.08 540.70 100.80C533.32 99.52 525.83 98.92 518.50 98.10C511.17 97.28 504.05 96.68 496.70 95.90C489.35 95.12 481.78 94.40 474.40 93.40C467.02 92.40 459.67 91.53 452.40 89.90C445.13 88.27 436.13 85.45 430.80 83.60C425.47 81.75 423.62 80.60 420.40 78.80C417.18 77.00 414.17 75.27 411.50 72.80C408.83 70.33 406.17 66.87 404.40 64.00C402.63 61.13 401.58 57.67 400.90 55.60C400.22 53.53 399.85 53.17 400.30 51.60C400.75 50.03 402.05 47.73 403.60 46.20C405.15 44.67 407.32 43.22 409.60 42.40C411.88 41.58 414.25 41.03 417.30 41.30C420.35 41.57 424.43 42.72 427.90 44.00C431.37 45.28 433.48 45.57 438.10 49.00C442.72 52.43 450.78 58.52 455.60 64.60C460.42 70.68 464.00 78.35 467.00 85.50C470.00 92.65 472.05 99.87 473.60 107.50C475.15 115.13 476.10 123.37 476.30 131.30C476.50 139.23 475.83 147.47 474.80 155.10C473.77 162.73 471.97 169.77 470.10 177.10C468.23 184.43 465.88 192.05 463.60 199.10C461.32 206.15 458.87 213.38 456.40 219.40C453.93 225.42 450.33 232.02 448.80 235.20C447.27 238.38 448.87 235.07 447.20 238.50C445.53 241.93 441.82 250.08 438.80 255.80C435.78 261.52 432.52 267.22 429.10 272.80C425.68 278.38 422.02 283.92 418.30 289.30C414.58 294.68 410.77 299.97 406.80 305.10C402.83 310.23 398.78 315.20 394.50 320.10C390.22 325.00 385.82 329.77 381.10 334.50C376.38 339.23 371.40 344.07 366.20 348.50C361.00 352.93 355.62 357.14 349.90 361.10C344.18 365.06 338.12 368.81 331.90 372.27C325.68 375.73 319.32 378.93 312.60 381.88C305.88 384.83 298.85 387.59 291.60 389.97C284.35 392.35 276.78 394.45 269.10 396.15C261.42 397.85 253.52 399.35 245.50 400.15C237.48 400.95 229.47 401.23 221.00 400.95C212.53 400.67 203.58 399.95 194.70 398.45C185.82 396.95 176.50 394.79 167.70 391.95C158.90 389.11 150.47 385.64 141.90 381.41C133.33 377.19 124.23 372.46 116.30 366.60C108.37 360.75 100.82 353.83 94.30 346.27C87.78 338.70 81.78 329.94 77.20 321.20C72.62 312.46 68.87 302.62 66.80 293.80C64.73 284.98 65.13 272.55 64.80 268.30" fill="none" stroke="#e9a935" stroke-width="1.22"/>
<g fill="#e9a935"><circle cx="64.8" cy="202.1" r="1.95"/><circle cx="66.8" cy="176.6" r="1.95"/><circle cx="77.2" cy="149.2" r="1.95"/><circle cx="94.3" cy="124.1" r="1.95"/><circle cx="116.3" cy="103.8" r="1.95"/><circle cx="141.9" cy="89.0" r="1.95"/><circle cx="167.7" cy="78.5" r="1.95"/><circle cx="194.7" cy="72.0" r="1.95"/><circle cx="221.0" cy="69.5" r="1.95"/><circle cx="245.5" cy="70.2" r="1.95"/><circle cx="269.1" cy="74.2" r="1.95"/><circle cx="291.6" cy="80.4" r="1.95"/><circle cx="312.6" cy="88.5" r="1.95"/><circle cx="331.9" cy="98.1" r="1.95"/><circle cx="349.9" cy="109.3" r="1.95"/><circle cx="366.2" cy="121.9" r="1.95"/><circle cx="381.1" cy="135.9" r="1.95"/><circle cx="394.5" cy="150.3" r="1.95"/><circle cx="406.8" cy="165.3" r="1.95"/><circle cx="418.3" cy="181.1" r="1.95"/><circle cx="429.1" cy="197.6" r="1.95"/><circle cx="438.8" cy="214.6" r="1.95"/><circle cx="447.2" cy="231.9" r="1.95"/><circle cx="456.4" cy="251.0" r="1.95"/><circle cx="463.6" cy="271.3" r="1.95"/><circle cx="470.1" cy="293.3" r="1.95"/><circle cx="474.8" cy="315.3" r="1.95"/><circle cx="476.3" cy="339.1" r="1.95"/><circle cx="473.6" cy="362.9" r="1.95"/><circle cx="467.0" cy="384.9" r="1.95"/><circle cx="455.6" cy="405.8" r="1.95"/><circle cx="455.6" cy="64.6" r="1.95"/><circle cx="467.0" cy="85.5" r="1.95"/><circle cx="473.6" cy="107.5" r="1.95"/><circle cx="476.3" cy="131.3" r="1.95"/><circle cx="474.8" cy="155.1" r="1.95"/><circle cx="470.1" cy="177.1" r="1.95"/><circle cx="463.6" cy="199.1" r="1.95"/><circle cx="456.4" cy="219.4" r="1.95"/><circle cx="447.2" cy="238.5" r="1.95"/><circle cx="438.8" cy="255.8" r="1.95"/><circle cx="429.1" cy="272.8" r="1.95"/><circle cx="418.3" cy="289.3" r="1.95"/><circle cx="406.8" cy="305.1" r="1.95"/><circle cx="394.5" cy="320.1" r="1.95"/><circle cx="381.1" cy="334.5" r="1.95"/><circle cx="366.2" cy="348.5" r="1.95"/><circle cx="349.9" cy="361.1" r="1.95"/><circle cx="331.9" cy="372.3" r="1.95"/><circle cx="312.6" cy="381.9" r="1.95"/><circle cx="291.6" cy="390.0" r="1.95"/><circle cx="269.1" cy="396.1" r="1.95"/><circle cx="245.5" cy="400.1" r="1.95"/><circle cx="221.0" cy="400.9" r="1.95"/><circle cx="194.7" cy="398.4" r="1.95"/><circle cx="167.7" cy="391.9" r="1.95"/><circle cx="141.9" cy="381.4" r="1.95"/><circle cx="116.3" cy="366.6" r="1.95"/><circle cx="94.3" cy="346.3" r="1.95"/><circle cx="77.2" cy="321.2" r="1.95"/><circle cx="66.8" cy="293.8" r="1.95"/><circle cx="64.8" cy="268.3" r="1.95"/></g>
<path d="M67.00 188.10C68.73 184.38 73.05 172.95 77.40 165.80C81.75 158.65 87.48 151.48 93.10 145.22C98.72 138.97 104.80 133.31 111.10 128.26C117.40 123.21 124.30 118.91 130.90 114.91C137.50 110.91 143.90 107.36 150.70 104.25C157.50 101.14 164.87 98.53 171.70 96.25C178.53 93.97 184.87 92.22 191.70 90.55C198.53 88.88 205.82 87.38 212.70 86.25C219.58 85.12 226.15 84.25 233.00 83.75C239.85 83.25 246.95 83.08 253.80 83.25C260.65 83.42 267.22 83.93 274.10 84.75C280.98 85.57 288.22 86.77 295.10 88.20C301.98 89.62 308.68 91.23 315.40 93.30C322.12 95.36 328.63 97.80 335.40 100.60C342.17 103.40 349.37 106.52 356.00 110.10C362.63 113.68 369.03 117.75 375.20 122.10C381.37 126.45 387.20 131.22 393.00 136.20C398.80 141.18 404.73 146.35 410.00 152.00C415.27 157.65 420.00 163.87 424.60 170.10C429.20 176.33 433.68 182.82 437.60 189.40C441.52 195.98 444.85 202.18 448.10 209.60C451.35 217.02 455.52 229.63 457.10 233.90C458.68 238.17 456.68 231.88 457.60 235.20C458.52 238.52 460.85 247.12 462.60 253.80C464.35 260.48 466.52 268.05 468.10 275.30C469.68 282.55 471.10 289.95 472.10 297.30C473.10 304.65 473.85 311.98 474.10 319.40C474.35 326.82 474.02 334.37 473.60 341.80C473.18 349.23 473.02 356.75 471.60 364.00C470.18 371.25 468.10 378.33 465.10 385.30C462.10 392.27 456.68 400.98 453.60 405.80C450.52 410.62 449.18 411.60 446.60 414.20C444.02 416.80 441.22 419.37 438.10 421.40C434.98 423.43 431.37 425.12 427.90 426.40C424.43 427.68 420.35 428.83 417.30 429.10C414.25 429.37 411.88 428.82 409.60 428.00C407.32 427.18 405.15 425.73 403.60 424.20C402.05 422.67 400.75 420.37 400.30 418.80C399.85 417.23 400.22 416.87 400.90 414.80C401.58 412.73 402.63 409.27 404.40 406.40C406.17 403.53 408.83 400.07 411.50 397.60C414.17 395.13 417.18 393.40 420.40 391.60C423.62 389.80 425.47 388.65 430.80 386.80C436.13 384.95 445.13 382.13 452.40 380.50C459.67 378.87 467.02 378.00 474.40 377.00C481.78 376.00 489.35 375.28 496.70 374.50C504.05 373.72 511.17 373.12 518.50 372.30C525.83 371.48 533.32 370.88 540.70 369.60C548.08 368.32 555.53 366.43 562.80 364.60C570.07 362.77 577.33 361.02 584.30 358.60C591.27 356.18 597.95 353.40 604.60 350.10C611.25 346.80 618.07 343.02 624.20 338.80C630.33 334.58 636.02 329.88 641.40 324.80C646.78 319.72 651.95 314.23 656.50 308.30C661.05 302.37 665.33 295.82 668.70 289.20C672.07 282.58 674.65 275.72 676.70 268.60C678.75 261.48 680.17 252.07 681.00 246.50C681.83 240.93 681.70 238.97 681.70 235.20C681.70 231.43 681.83 229.47 681.00 223.90C680.17 218.33 678.75 208.92 676.70 201.80C674.65 194.68 672.07 187.82 668.70 181.20C665.33 174.58 661.05 168.03 656.50 162.10C651.95 156.17 646.78 150.68 641.40 145.60C636.02 140.52 630.33 135.82 624.20 131.60C618.07 127.38 611.25 123.60 604.60 120.30C597.95 117.00 591.27 114.22 584.30 111.80C577.33 109.38 570.07 107.63 562.80 105.80C555.53 103.97 548.08 102.08 540.70 100.80C533.32 99.52 525.83 98.92 518.50 98.10C511.17 97.28 504.05 96.68 496.70 95.90C489.35 95.12 481.78 94.40 474.40 93.40C467.02 92.40 459.67 91.53 452.40 89.90C445.13 88.27 436.13 85.45 430.80 83.60C425.47 81.75 423.62 80.60 420.40 78.80C417.18 77.00 414.17 75.27 411.50 72.80C408.83 70.33 406.17 66.87 404.40 64.00C402.63 61.13 401.58 57.67 400.90 55.60C400.22 53.53 399.85 53.17 400.30 51.60C400.75 50.03 402.05 47.73 403.60 46.20C405.15 44.67 407.32 43.22 409.60 42.40C411.88 41.58 414.25 41.03 417.30 41.30C420.35 41.57 424.43 42.72 427.90 44.00C431.37 45.28 434.98 46.97 438.10 49.00C441.22 51.03 444.02 53.60 446.60 56.20C449.18 58.80 450.52 59.78 453.60 64.60C456.68 69.42 462.10 78.13 465.10 85.10C468.10 92.07 470.18 99.15 471.60 106.40C473.02 113.65 473.18 121.17 473.60 128.60C474.02 136.03 474.35 143.58 474.10 151.00C473.85 158.42 473.10 165.75 472.10 173.10C471.10 180.45 469.68 187.85 468.10 195.10C466.52 202.35 464.35 209.92 462.60 216.60C460.85 223.28 458.52 231.88 457.60 235.20C456.68 238.52 458.68 232.23 457.10 236.50C455.52 240.77 451.35 253.38 448.10 260.80C444.85 268.22 441.52 274.42 437.60 281.00C433.68 287.58 429.20 294.07 424.60 300.30C420.00 306.53 415.27 312.75 410.00 318.40C404.73 324.05 398.80 329.22 393.00 334.20C387.20 339.18 381.37 343.95 375.20 348.30C369.03 352.65 362.63 356.72 356.00 360.30C349.37 363.88 342.17 367.00 335.40 369.80C328.63 372.60 322.12 375.04 315.40 377.10C308.68 379.17 301.98 380.78 295.10 382.20C288.22 383.63 280.98 384.83 274.10 385.65C267.22 386.47 260.65 386.98 253.80 387.15C246.95 387.32 239.85 387.15 233.00 386.65C226.15 386.15 219.58 385.28 212.70 384.15C205.82 383.02 198.53 381.52 191.70 379.85C184.87 378.18 178.53 376.43 171.70 374.15C164.87 371.87 157.50 369.26 150.70 366.15C143.90 363.04 137.50 359.49 130.90 355.49C124.30 351.49 117.40 347.19 111.10 342.14C104.80 337.09 98.72 331.43 93.10 325.18C87.48 318.92 81.75 311.75 77.40 304.60C73.05 297.45 68.73 286.02 67.00 282.30" fill="none" stroke="#c4402f" stroke-width="1.22"/>
<g fill="#c4402f"><circle cx="67.0" cy="188.1" r="1.95"/><circle cx="77.4" cy="165.8" r="1.95"/><circle cx="93.1" cy="145.2" r="1.95"/><circle cx="111.1" cy="128.3" r="1.95"/><circle cx="130.9" cy="114.9" r="1.95"/><circle cx="150.7" cy="104.2" r="1.95"/><circle cx="171.7" cy="96.2" r="1.95"/><circle cx="191.7" cy="90.5" r="1.95"/><circle cx="212.7" cy="86.2" r="1.95"/><circle cx="233.0" cy="83.8" r="1.95"/><circle cx="253.8" cy="83.2" r="1.95"/><circle cx="274.1" cy="84.8" r="1.95"/><circle cx="295.1" cy="88.2" r="1.95"/><circle cx="315.4" cy="93.3" r="1.95"/><circle cx="335.4" cy="100.6" r="1.95"/><circle cx="356.0" cy="110.1" r="1.95"/><circle cx="375.2" cy="122.1" r="1.95"/><circle cx="393.0" cy="136.2" r="1.95"/><circle cx="410.0" cy="152.0" r="1.95"/><circle cx="424.6" cy="170.1" r="1.95"/><circle cx="437.6" cy="189.4" r="1.95"/><circle cx="448.1" cy="209.6" r="1.95"/><circle cx="457.1" cy="233.9" r="1.95"/><circle cx="462.6" cy="253.8" r="1.95"/><circle cx="468.1" cy="275.3" r="1.95"/><circle cx="472.1" cy="297.3" r="1.95"/><circle cx="474.1" cy="319.4" r="1.95"/><circle cx="473.6" cy="341.8" r="1.95"/><circle cx="471.6" cy="364.0" r="1.95"/><circle cx="465.1" cy="385.3" r="1.95"/><circle cx="453.6" cy="405.8" r="1.95"/><circle cx="438.1" cy="421.4" r="1.95"/><circle cx="417.3" cy="428.9" r="1.95"/><circle cx="401.3" cy="416.8" r="1.95"/><circle cx="411.5" cy="397.8" r="1.95"/><circle cx="430.8" cy="386.8" r="1.95"/><circle cx="452.4" cy="380.5" r="1.95"/><circle cx="474.4" cy="377.0" r="1.95"/><circle cx="496.7" cy="374.5" r="1.95"/><circle cx="518.5" cy="372.3" r="1.95"/><circle cx="540.7" cy="369.6" r="1.95"/><circle cx="562.8" cy="364.6" r="1.95"/><circle cx="584.3" cy="358.6" r="1.95"/><circle cx="604.6" cy="350.1" r="1.95"/><circle cx="624.2" cy="338.8" r="1.95"/><circle cx="641.4" cy="324.8" r="1.95"/><circle cx="656.5" cy="308.3" r="1.95"/><circle cx="668.7" cy="289.2" r="1.95"/><circle cx="676.7" cy="268.6" r="1.95"/><circle cx="681.0" cy="246.5" r="1.95"/><circle cx="681.0" cy="223.9" r="1.95"/><circle cx="676.7" cy="201.8" r="1.95"/><circle cx="668.7" cy="181.2" r="1.95"/><circle cx="656.5" cy="162.1" r="1.95"/><circle cx="641.4" cy="145.6" r="1.95"/><circle cx="624.2" cy="131.6" r="1.95"/><circle cx="604.6" cy="120.3" r="1.95"/><circle cx="584.3" cy="111.8" r="1.95"/><circle cx="562.8" cy="105.8" r="1.95"/><circle cx="540.7" cy="100.8" r="1.95"/><circle cx="518.5" cy="98.1" r="1.95"/><circle cx="496.7" cy="95.9" r="1.95"/><circle cx="474.4" cy="93.4" r="1.95"/><circle cx="452.4" cy="89.9" r="1.95"/><circle cx="430.8" cy="83.6" r="1.95"/><circle cx="411.5" cy="72.6" r="1.95"/><circle cx="401.3" cy="53.6" r="1.95"/><circle cx="417.3" cy="41.5" r="1.95"/><circle cx="438.1" cy="49.0" r="1.95"/><circle cx="453.6" cy="64.6" r="1.95"/><circle cx="465.1" cy="85.1" r="1.95"/><circle cx="471.6" cy="106.4" r="1.95"/><circle cx="473.6" cy="128.6" r="1.95"/><circle cx="474.1" cy="151.0" r="1.95"/><circle cx="472.1" cy="173.1" r="1.95"/><circle cx="468.1" cy="195.1" r="1.95"/><circle cx="462.6" cy="216.6" r="1.95"/><circle cx="457.1" cy="236.5" r="1.95"/><circle cx="448.1" cy="260.8" r="1.95"/><circle cx="437.6" cy="281.0" r="1.95"/><circle cx="424.6" cy="300.3" r="1.95"/><circle cx="410.0" cy="318.4" r="1.95"/><circle cx="393.0" cy="334.2" r="1.95"/><circle cx="375.2" cy="348.3" r="1.95"/><circle cx="356.0" cy="360.3" r="1.95"/><circle cx="335.4" cy="369.8" r="1.95"/><circle cx="315.4" cy="377.1" r="1.95"/><circle cx="295.1" cy="382.2" r="1.95"/><circle cx="274.1" cy="385.6" r="1.95"/><circle cx="253.8" cy="387.1" r="1.95"/><circle cx="233.0" cy="386.6" r="1.95"/><circle cx="212.7" cy="384.1" r="1.95"/><circle cx="191.7" cy="379.8" r="1.95"/><circle cx="171.7" cy="374.1" r="1.95"/><circle cx="150.7" cy="366.1" r="1.95"/><circle cx="130.9" cy="355.5" r="1.95"/><circle cx="111.1" cy="342.1" r="1.95"/><circle cx="93.1" cy="325.2" r="1.95"/><circle cx="77.4" cy="304.6" r="1.95"/><circle cx="67.0" cy="282.3" r="1.95"/></g>
<path d="M52.5 18.3H694.5V452.4H52.5Z" fill="none" stroke="#414141" stroke-width="1.3"/>
<g stroke="#858585" stroke-width="0.7"><line x1="71.8" x2="71.8" y1="452" y2="450.7"/><line x1="71.8" x2="71.8" y1="18" y2="19.3"/><line x1="95.0" x2="95.0" y1="452" y2="450.7"/><line x1="95.0" x2="95.0" y1="18" y2="19.3"/><line x1="118.3" x2="118.3" y1="452" y2="449.8"/><line x1="118.3" x2="118.3" y1="18" y2="20.2"/><line x1="141.6" x2="141.6" y1="452" y2="450.7"/><line x1="141.6" x2="141.6" y1="18" y2="19.3"/><line x1="164.8" x2="164.8" y1="452" y2="450.7"/><line x1="164.8" x2="164.8" y1="18" y2="19.3"/><line x1="188.1" x2="188.1" y1="452" y2="450.7"/><line x1="188.1" x2="188.1" y1="18" y2="19.3"/><line x1="211.3" x2="211.3" y1="452" y2="450.7"/><line x1="211.3" x2="211.3" y1="18" y2="19.3"/><line x1="234.6" x2="234.6" y1="452" y2="449.8"/><line x1="234.6" x2="234.6" y1="18" y2="20.2"/><line x1="257.9" x2="257.9" y1="452" y2="450.7"/><line x1="257.9" x2="257.9" y1="18" y2="19.3"/><line x1="281.1" x2="281.1" y1="452" y2="450.7"/><line x1="281.1" x2="281.1" y1="18" y2="19.3"/><line x1="304.4" x2="304.4" y1="452" y2="450.7"/><line x1="304.4" x2="304.4" y1="18" y2="19.3"/><line x1="327.6" x2="327.6" y1="452" y2="450.7"/><line x1="327.6" x2="327.6" y1="18" y2="19.3"/><line x1="350.9" x2="350.9" y1="452" y2="449.8"/><line x1="350.9" x2="350.9" y1="18" y2="20.2"/><line x1="374.2" x2="374.2" y1="452" y2="450.7"/><line x1="374.2" x2="374.2" y1="18" y2="19.3"/><line x1="397.4" x2="397.4" y1="452" y2="450.7"/><line x1="397.4" x2="397.4" y1="18" y2="19.3"/><line x1="420.7" x2="420.7" y1="452" y2="450.7"/><line x1="420.7" x2="420.7" y1="18" y2="19.3"/><line x1="443.9" x2="443.9" y1="452" y2="450.7"/><line x1="443.9" x2="443.9" y1="18" y2="19.3"/><line x1="467.2" x2="467.2" y1="452" y2="449.8"/><line x1="467.2" x2="467.2" y1="18" y2="20.2"/><line x1="490.5" x2="490.5" y1="452" y2="450.7"/><line x1="490.5" x2="490.5" y1="18" y2="19.3"/><line x1="513.7" x2="513.7" y1="452" y2="450.7"/><line x1="513.7" x2="513.7" y1="18" y2="19.3"/><line x1="537.0" x2="537.0" y1="452" y2="450.7"/><line x1="537.0" x2="537.0" y1="18" y2="19.3"/><line x1="560.2" x2="560.2" y1="452" y2="450.7"/><line x1="560.2" x2="560.2" y1="18" y2="19.3"/><line x1="583.5" x2="583.5" y1="452" y2="449.8"/><line x1="583.5" x2="583.5" y1="18" y2="20.2"/><line x1="606.8" x2="606.8" y1="452" y2="450.7"/><line x1="606.8" x2="606.8" y1="18" y2="19.3"/><line x1="630.0" x2="630.0" y1="452" y2="450.7"/><line x1="630.0" x2="630.0" y1="18" y2="19.3"/><line x1="653.3" x2="653.3" y1="452" y2="450.7"/><line x1="653.3" x2="653.3" y1="18" y2="19.3"/><line x1="676.5" x2="676.5" y1="452" y2="450.7"/><line x1="676.5" x2="676.5" y1="18" y2="19.3"/><line y1="444.5" y2="444.5" x1="52.5" x2="53.8"/><line y1="444.5" y2="444.5" x1="694.5" x2="693.2"/><line y1="432.9" y2="432.9" x1="52.5" x2="53.8"/><line y1="432.9" y2="432.9" x1="694.5" x2="693.2"/><line y1="421.3" y2="421.3" x1="52.5" x2="53.8"/><line y1="421.3" y2="421.3" x1="694.5" x2="693.2"/><line y1="409.6" y2="409.6" x1="52.5" x2="54.7"/><line y1="409.6" y2="409.6" x1="694.5" x2="692.3"/><line y1="398.0" y2="398.0" x1="52.5" x2="53.8"/><line y1="398.0" y2="398.0" x1="694.5" x2="693.2"/><line y1="386.4" y2="386.4" x1="52.5" x2="53.8"/><line y1="386.4" y2="386.4" x1="694.5" x2="693.2"/><line y1="374.8" y2="374.8" x1="52.5" x2="53.8"/><line y1="374.8" y2="374.8" x1="694.5" x2="693.2"/><line y1="363.1" y2="363.1" x1="52.5" x2="53.8"/><line y1="363.1" y2="363.1" x1="694.5" x2="693.2"/><line y1="351.5" y2="351.5" x1="52.5" x2="54.7"/><line y1="351.5" y2="351.5" x1="694.5" x2="692.3"/><line y1="339.9" y2="339.9" x1="52.5" x2="53.8"/><line y1="339.9" y2="339.9" x1="694.5" x2="693.2"/><line y1="328.2" y2="328.2" x1="52.5" x2="53.8"/><line y1="328.2" y2="328.2" x1="694.5" x2="693.2"/><line y1="316.6" y2="316.6" x1="52.5" x2="53.8"/><line y1="316.6" y2="316.6" x1="694.5" x2="693.2"/><line y1="305.0" y2="305.0" x1="52.5" x2="53.8"/><line y1="305.0" y2="305.0" x1="694.5" x2="693.2"/><line y1="293.4" y2="293.4" x1="52.5" x2="54.7"/><line y1="293.4" y2="293.4" x1="694.5" x2="692.3"/><line y1="281.7" y2="281.7" x1="52.5" x2="53.8"/><line y1="281.7" y2="281.7" x1="694.5" x2="693.2"/><line y1="270.1" y2="270.1" x1="52.5" x2="53.8"/><line y1="270.1" y2="270.1" x1="694.5" x2="693.2"/><line y1="258.5" y2="258.5" x1="52.5" x2="53.8"/><line y1="258.5" y2="258.5" x1="694.5" x2="693.2"/><line y1="246.8" y2="246.8" x1="52.5" x2="53.8"/><line y1="246.8" y2="246.8" x1="694.5" x2="693.2"/><line y1="235.2" y2="235.2" x1="52.5" x2="54.7"/><line y1="235.2" y2="235.2" x1="694.5" x2="692.3"/><line y1="223.6" y2="223.6" x1="52.5" x2="53.8"/><line y1="223.6" y2="223.6" x1="694.5" x2="693.2"/><line y1="211.9" y2="211.9" x1="52.5" x2="53.8"/><line y1="211.9" y2="211.9" x1="694.5" x2="693.2"/><line y1="200.3" y2="200.3" x1="52.5" x2="53.8"/><line y1="200.3" y2="200.3" x1="694.5" x2="693.2"/><line y1="188.7" y2="188.7" x1="52.5" x2="53.8"/><line y1="188.7" y2="188.7" x1="694.5" x2="693.2"/><line y1="177.0" y2="177.0" x1="52.5" x2="54.7"/><line y1="177.0" y2="177.0" x1="694.5" x2="692.3"/><line y1="165.4" y2="165.4" x1="52.5" x2="53.8"/><line y1="165.4" y2="165.4" x1="694.5" x2="693.2"/><line y1="153.8" y2="153.8" x1="52.5" x2="53.8"/><line y1="153.8" y2="153.8" x1="694.5" x2="693.2"/><line y1="142.2" y2="142.2" x1="52.5" x2="53.8"/><line y1="142.2" y2="142.2" x1="694.5" x2="693.2"/><line y1="130.5" y2="130.5" x1="52.5" x2="53.8"/><line y1="130.5" y2="130.5" x1="694.5" x2="693.2"/><line y1="118.9" y2="118.9" x1="52.5" x2="54.7"/><line y1="118.9" y2="118.9" x1="694.5" x2="692.3"/><line y1="107.3" y2="107.3" x1="52.5" x2="53.8"/><line y1="107.3" y2="107.3" x1="694.5" x2="693.2"/><line y1="95.6" y2="95.6" x1="52.5" x2="53.8"/><line y1="95.6" y2="95.6" x1="694.5" x2="693.2"/><line y1="84.0" y2="84.0" x1="52.5" x2="53.8"/><line y1="84.0" y2="84.0" x1="694.5" x2="693.2"/><line y1="72.4" y2="72.4" x1="52.5" x2="53.8"/><line y1="72.4" y2="72.4" x1="694.5" x2="693.2"/><line y1="60.7" y2="60.7" x1="52.5" x2="54.7"/><line y1="60.7" y2="60.7" x1="694.5" x2="692.3"/><line y1="49.1" y2="49.1" x1="52.5" x2="53.8"/><line y1="49.1" y2="49.1" x1="694.5" x2="693.2"/><line y1="37.5" y2="37.5" x1="52.5" x2="53.8"/><line y1="37.5" y2="37.5" x1="694.5" x2="693.2"/><line y1="25.9" y2="25.9" x1="52.5" x2="53.8"/><line y1="25.9" y2="25.9" x1="694.5" x2="693.2"/></g>
<g style="filter:grayscale(1)" font-family="Liberation Serif, serif" font-size="13" fill="#6b6b6b"><path d="M109.3 464.4h6.6" stroke="#6b6b6b" stroke-width="1.05" fill="none"/><text transform="translate(119.2,467.7) scale(1,1.15)" text-anchor="start">4</text><path d="M225.6 464.4h6.6" stroke="#6b6b6b" stroke-width="1.05" fill="none"/><text transform="translate(235.5,467.7) scale(1,1.15)" text-anchor="start">3</text><path d="M341.9 464.4h6.6" stroke="#6b6b6b" stroke-width="1.05" fill="none"/><text transform="translate(351.8,467.7) scale(1,1.15)" text-anchor="start">2</text><path d="M458.2 464.4h6.6" stroke="#6b6b6b" stroke-width="1.05" fill="none"/><text transform="translate(468.1,467.7) scale(1,1.15)" text-anchor="start">1</text><text transform="translate(583.5,467.7) scale(1,1.15)" text-anchor="middle">0</text><text transform="translate(46.9,66.0) scale(1,1.15)" text-anchor="end">1.5</text><text transform="translate(46.9,124.1) scale(1,1.15)" text-anchor="end">1.0</text><text transform="translate(46.9,182.2) scale(1,1.15)" text-anchor="end">0.5</text><text transform="translate(46.9,240.4) scale(1,1.15)" text-anchor="end">0.0</text><text transform="translate(46.9,298.5) scale(1,1.15)" text-anchor="end">0.5</text><path d="M21.2 294.9h6.6" stroke="#6b6b6b" stroke-width="1.05" fill="none"/><text transform="translate(46.9,356.7) scale(1,1.15)" text-anchor="end">1.0</text><path d="M21.2 353.1h6.6" stroke="#6b6b6b" stroke-width="1.05" fill="none"/><text transform="translate(46.9,414.8) scale(1,1.15)" text-anchor="end">1.5</text><path d="M21.2 411.2h6.6" stroke="#6b6b6b" stroke-width="1.05" fill="none"/></g>
<g style="filter:grayscale(1)" font-family="Liberation Serif, serif" font-size="12.6" fill="#111"><text x="61.5" y="231.9" text-anchor="start">arg</text><text x="82.1" y="231.9" text-anchor="start">(</text><text x="86.4" y="231.9" text-anchor="start">t</text><text x="92.1" y="231.9" text-anchor="start">)</text><path d="M101.20 227.45h6.40M101.20 230.35h6.40" stroke="#111" stroke-width="1.15" fill="none"/><text x="113.6" y="231.9" text-anchor="start">2</text><text transform="translate(120.6,232.4) scale(1.09,1)" font-family="Liberation Sans, sans-serif" font-style="italic" font-size="12.8">π</text><path d="M136.10 230.00 q1.40 -2.3 2.80 -0.9 t2.80 -0.9" fill="none" stroke="#111" stroke-width="1.45" stroke-linecap="round"/><path d="M147.00 228.95h5.40" stroke="#111" stroke-width="1.1" fill="none"/><text x="154.3" y="231.9" text-anchor="start">2</text><text transform="translate(161.3,232.4) scale(1.09,1)" font-family="Liberation Sans, sans-serif" font-style="italic" font-size="12.8">π</text><text x="471.2" y="65.3" text-anchor="start">arg</text><text x="491.8" y="65.3" text-anchor="start">(</text><text x="496.1" y="65.3" text-anchor="start">t</text><text x="501.8" y="65.3" text-anchor="start">)</text><path d="M510.90 60.85h6.40M510.90 63.75h6.40" stroke="#111" stroke-width="1.15" fill="none"/><text transform="translate(521.4,65.8) scale(1.09,1)" font-family="Liberation Sans, sans-serif" font-style="italic" font-size="12.8">π</text><text x="612.3" y="228.3" text-anchor="start">arg</text><text x="632.9" y="228.3" text-anchor="start">(</text><text x="637.2" y="228.3" text-anchor="start">t</text><text x="642.9" y="228.3" text-anchor="start">)</text><path d="M652.00 223.85h6.40M652.00 226.75h6.40" stroke="#111" stroke-width="1.15" fill="none"/><text x="663.2" y="228.3" text-anchor="start">0</text><text x="466.8" y="414.3" text-anchor="start">arg</text><text x="487.4" y="414.3" text-anchor="start">(</text><text x="491.7" y="414.3" text-anchor="start">t</text><text x="497.4" y="414.3" text-anchor="start">)</text><path d="M506.50 409.85h6.40M506.50 412.75h6.40" stroke="#111" stroke-width="1.15" fill="none"/><path d="M518.40 411.35h5.40" stroke="#111" stroke-width="1.1" fill="none"/><text transform="translate(525.0,414.8) scale(1.09,1)" font-family="Liberation Sans, sans-serif" font-style="italic" font-size="12.8">π</text><path d="M541.00 412.40 q1.40 -2.3 2.80 -0.9 t2.80 -0.9" fill="none" stroke="#111" stroke-width="1.45" stroke-linecap="round"/><text x="552.2" y="414.3" text-anchor="start">3</text><text transform="translate(559.8,414.8) scale(1.09,1)" font-family="Liberation Sans, sans-serif" font-style="italic" font-size="12.8">π</text></g>
<g style="filter:grayscale(1)" font-family="Liberation Serif, serif" font-size="14" fill="#6b6b6b"><text x="219.0" y="13.9" text-anchor="start">N</text><path d="M237.60 8.10h7.40M237.60 11.30h7.40" stroke="#6b6b6b" stroke-width="1.25" fill="none"/><text x="250.6" y="13.9" text-anchor="start">3</text><text x="257.6" y="13.9" text-anchor="start">,</text><path d="M276.6 3v13.5M294.9 3v13.5" stroke="#6b6b6b" stroke-width="1.25" fill="none"/><text x="283.2" y="13.9" text-anchor="start">t</text><path d="M301.80 8.10h7.40M301.80 11.30h7.40" stroke="#6b6b6b" stroke-width="1.25" fill="none"/><text x="315.6" y="13.9" text-anchor="start">1</text><text x="322.3" y="13.9" text-anchor="start">.</text><text x="325.5" y="13.9" text-anchor="start">2</text><text x="336.4" y="13.9" text-anchor="start">,</text><text x="348.0" y="13.9" text-anchor="start">arg</text><text x="372.5" y="13.9" text-anchor="start">(</text><text x="378.4" y="13.9" text-anchor="start">t</text><text x="383.7" y="13.9" text-anchor="start">)</text><path d="M401.0 7.4h-3.4a3.1 3.1 0 0 0 0 6.2h3.4M394.6 10.5h6.4" stroke="#6b6b6b" stroke-width="1.35" fill="none"/><text x="406.6" y="13.9" text-anchor="start">(</text><path d="M412.80 9.70h7.00" stroke="#6b6b6b" stroke-width="1.1" fill="none"/><text x="421.8" y="13.9" text-anchor="start">15</text><text fill="#6b6b6b" transform="translate(437.7,13.9) scale(1.08,1)" font-family="Liberation Sans, sans-serif" font-style="italic" font-size="14.4">π</text><text x="449.9" y="13.9" text-anchor="start">/</text><text x="456.9" y="13.9" text-anchor="start">8</text><text x="468.6" y="13.9" text-anchor="start">,</text><text x="478.3" y="13.9" text-anchor="start">15</text><text fill="#6b6b6b" transform="translate(494.9,13.9) scale(1.08,1)" font-family="Liberation Sans, sans-serif" font-style="italic" font-size="14.4">π</text><text x="507.2" y="13.9" text-anchor="start">/</text><text x="513.6" y="13.9" text-anchor="start">8</text><text x="521.1" y="13.9" text-anchor="start">)</text></g>
<g style="filter:grayscale(1)" font-family="Liberation Serif, serif" font-size="14" fill="#6b6b6b"><text x="347.5" y="488.0">R</text><rect x="347.80" y="478.80" width="2.5" height="9.10" fill="#6b6b6b" fill-opacity="0.75"/><text x="356.8" y="488.0" text-anchor="start">e</text><path d="M370.30 483.30C370.27 482.95 369.95 481.83 370.10 481.20C370.25 480.57 370.57 479.93 371.20 479.50C371.83 479.07 372.87 478.75 373.90 478.60C374.93 478.45 376.57 478.42 377.40 478.60C378.23 478.78 378.67 479.23 378.90 479.70C379.13 480.17 379.12 480.88 378.80 481.40C378.48 481.92 377.70 482.48 377.00 482.80C376.30 483.12 375.00 483.22 374.60 483.30M373.40 479.50C373.28 480.18 373.02 482.33 372.70 483.60C372.38 484.87 371.93 486.30 371.50 487.10C371.07 487.90 370.33 488.18 370.10 488.40M374.80 483.30C375.05 483.75 375.78 485.23 376.30 486.00C376.82 486.77 377.48 487.52 377.90 487.90C378.32 488.28 378.65 488.23 378.80 488.30" fill="none" stroke="#6b6b6b" stroke-width="1.15" stroke-linecap="round"/><text x="381.0" y="488.0" text-anchor="start">(</text><text x="386.2" y="488.0" text-anchor="start">3</text><text x="394.2" y="488.0" text-anchor="start">)</text></g>
<g style="filter:grayscale(1)" transform="translate(13.3,261.8) rotate(-90)" font-family="Liberation Serif, serif" font-size="14" fill="#6b6b6b"><rect x="0.70" y="-8.90" width="2.9" height="8.50" rx="0.4" fill="#6b6b6b" fill-opacity="0.25" stroke="#6b6b6b" stroke-width="1.0"/><text x="5.8" y="0.0" text-anchor="start">m</text><path d="M21.80 -4.70C21.77 -5.05 21.45 -6.17 21.60 -6.80C21.75 -7.43 22.07 -8.07 22.70 -8.50C23.33 -8.93 24.37 -9.25 25.40 -9.40C26.43 -9.55 28.07 -9.58 28.90 -9.40C29.73 -9.22 30.17 -8.77 30.40 -8.30C30.63 -7.83 30.62 -7.12 30.30 -6.60C29.98 -6.08 29.20 -5.52 28.50 -5.20C27.80 -4.88 26.50 -4.78 26.10 -4.70M24.90 -8.50C24.78 -7.82 24.52 -5.67 24.20 -4.40C23.88 -3.13 23.43 -1.70 23.00 -0.90C22.57 -0.10 21.83 0.18 21.60 0.40M26.30 -4.70C26.55 -4.25 27.28 -2.77 27.80 -2.00C28.32 -1.23 28.98 -0.48 29.40 -0.10C29.82 0.28 30.15 0.23 30.30 0.30" fill="none" stroke="#6b6b6b" stroke-width="1.15" stroke-linecap="round"/><text x="35.2" y="0.0" text-anchor="start">(</text><text x="40.4" y="0.0" text-anchor="start">3</text><text x="48.4" y="0.0" text-anchor="start">)</text></g>
</svg>
</body></html>
